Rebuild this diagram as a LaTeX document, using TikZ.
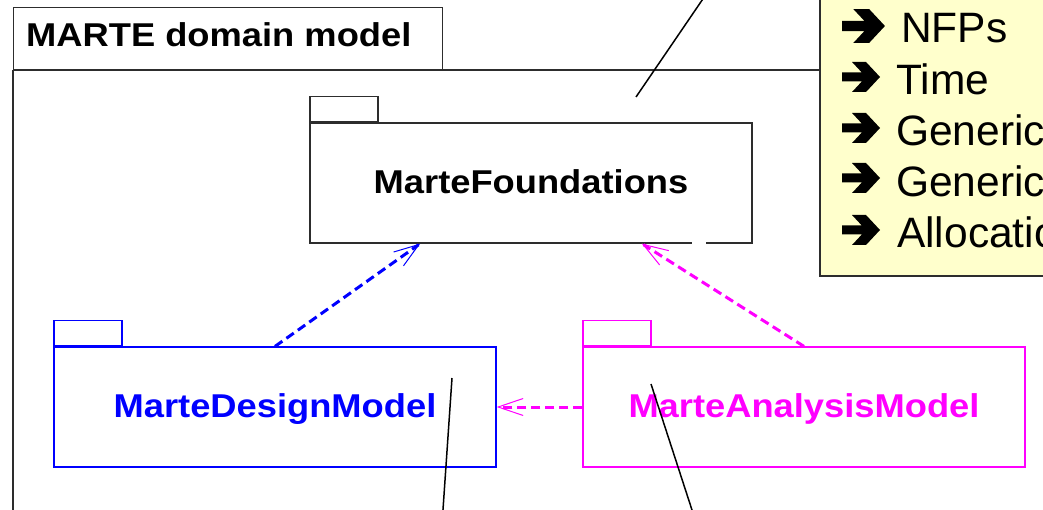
\documentclass[tikz,border=0pt]{standalone}
\usepackage{fontspec}
\setmainfont{Liberation Sans}
\newfontfamily\boldwide{Liberation Sans}[FakeStretch=1.1]
\usetikzlibrary{arrows.meta,calc}
\definecolor{notefill}{RGB}{255,255,204}
\definecolor{umlblue}{RGB}{0,0,255}
\definecolor{umlmagenta}{RGB}{255,0,255}
\definecolor{edge}{RGB}{45,45,45}

\begin{document}
\begin{tikzpicture}[x=1pt,y=-1pt,
  frameline/.style={draw=edge, line width=1.3pt},
  titletext/.style={anchor=base west, inner sep=0pt, font=\boldwide\bfseries\fontsize{33}{36}\selectfont},
  pkgbody/.style={draw, line width=1.2pt, minimum width=442pt, minimum height=120pt,
    inner sep=0pt, font=\boldwide\bfseries\fontsize{33}{36}\selectfont,
    text height=23pt, text depth=2pt},
  pkgtab/.style={draw, line width=1.2pt, minimum width=68pt, minimum height=25pt,
    inner sep=0pt, anchor=south west},
  depend/.style={line width=3pt, dash pattern=on 9pt off 5pt,
    -{Straight Barb[length=25pt,width=17pt,line width=1pt]}},
  noteitem/.style={anchor=base west, inner sep=0pt, font=\fontsize{42.5}{48}\selectfont},
  annot/.style={draw=black, line width=1.5pt},
  bulletarrow/.pic={\fill (0,-4.5) -- (19.8,-4.5) -- (10,-15) -- (24,-15) -- (38,0)
    -- (24,15) -- (10,15) -- (19.8,4.5) -- (0,4.5) -- cycle;}
]
\useasboundingbox (0,0) rectangle (1043,510);
\clip (0,0) rectangle (1043,510);

% outer frame of the domain model with its name tab
\draw[frameline] (13,70) -- (830,70);
\draw[frameline] (13,70) -- (13,530);
\node[frameline, anchor=north west, minimum width=429pt, minimum height=63pt, inner sep=0pt]
  (frametab) at (13,7) {};
\node[titletext] (title) at (26,47) {MARTE domain model};

% note listing the foundation sub-packages
\node[draw=edge, fill=notefill, line width=1.5pt, anchor=south west,
  minimum width=260pt, minimum height=300pt, inner sep=0pt] (note) at (819,277) {};
\pic[scale=1.13] at (842,26) {bulletarrow};
\pic at (842,77) {bulletarrow};
\pic at (842,128) {bulletarrow};
\pic at (842,178) {bulletarrow};
\pic at (842,230) {bulletarrow};
\node[noteitem] (nfp) at (901,43) {NFPs};
\node[noteitem] (time) at (896,95) {Time};
\node[noteitem] (grm) at (896,146) {Generic};
\node[noteitem] (gqam) at (896,197) {Generic};
\node[noteitem] (alloc) at (897,248) {Allocatio};

% packages
\node[pkgbody, draw=edge] (found) at (531,183) {MarteFoundations};
\node[pkgtab, draw=edge] (foundtab) at (found.north west) {};
\node[pkgbody, draw=umlblue, text=umlblue] (design) at (275,407) {MarteDesignModel};
\node[pkgtab, draw=umlblue] (designtab) at (design.north west) {};
\node[pkgbody, draw=umlmagenta, text=umlmagenta] (analysis) at (804,407) {MarteAnalysisModel};
\node[pkgtab, draw=umlmagenta] (analysistab) at (analysis.north west) {};

% small break in the lower edge of MarteFoundations
\draw[white, line width=3pt] ($(found.south west)+(383,0)$) -- ++(14,0);

% dependencies
\draw[depend, umlblue] (design.north) -- ($(found.south west)!0.25!(found.south east)$);
\draw[depend, umlmagenta] (analysis.north) -- ($(found.south west)!0.75!(found.south east)$);
\draw[depend, umlmagenta] (analysis.west) -- (design.east);

% callout lines leading out of the frame
\coordinate (c1a) at (636,97);
\coordinate (c1b) at (709,-10);
\coordinate (c2a) at (452,378);
\coordinate (c2b) at (441.6,530);
\coordinate (c3a) at (651,384);
\coordinate (c3b) at (698.5,530);
\draw[annot] (c1a) -- (c1b);
\draw[annot] (c2a) -- (c2b);
\draw[annot] (c3a) -- (c3b);
\end{tikzpicture}
\end{document}
